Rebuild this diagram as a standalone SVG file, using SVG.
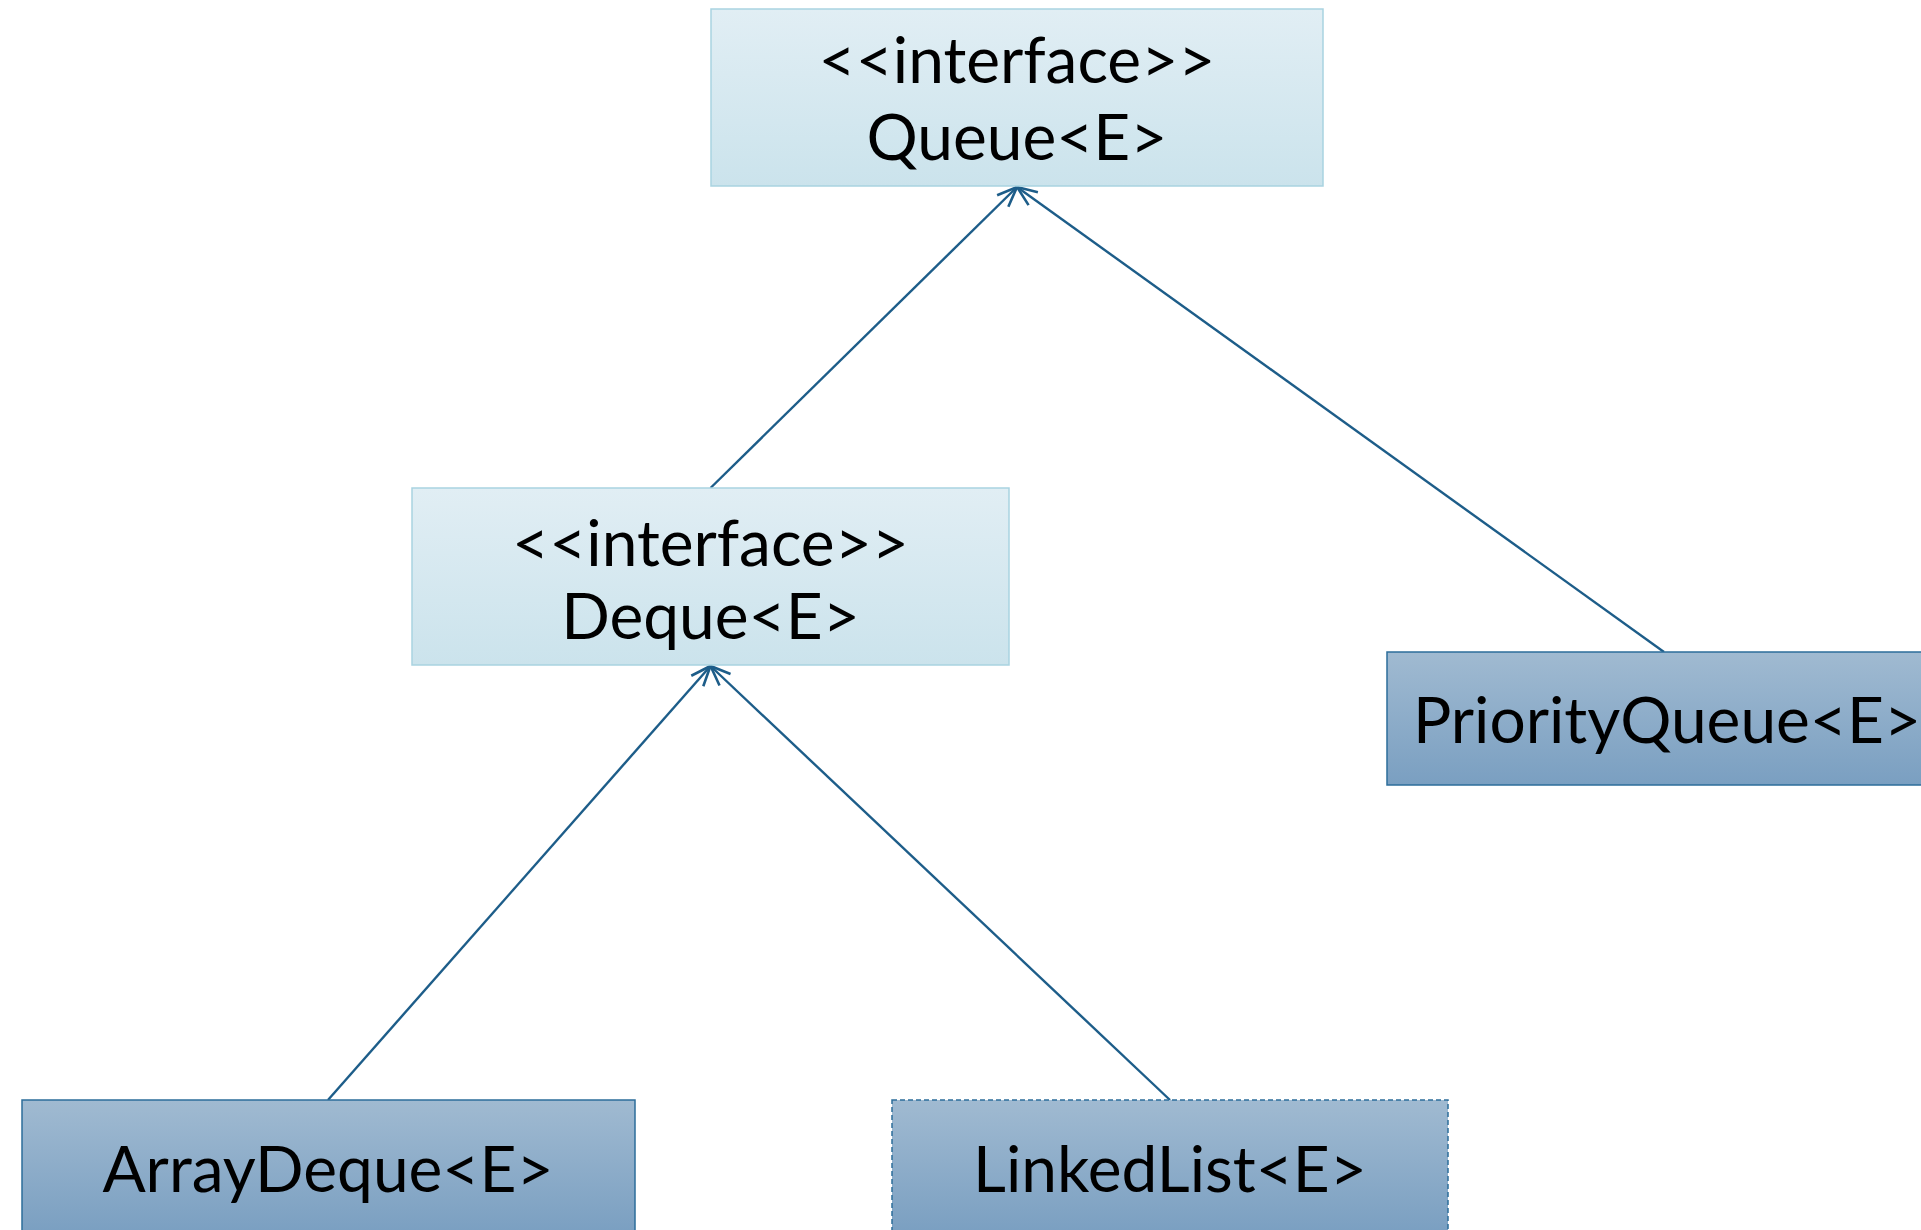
<svg xmlns="http://www.w3.org/2000/svg" width="1921" height="1230" viewBox="0 0 1921 1230">
<defs>
<linearGradient id="gLight" x1="0" y1="0" x2="0" y2="1">
<stop offset="0" stop-color="#e1eef4"/>
<stop offset="1" stop-color="#cbe3ec"/>
</linearGradient>
<linearGradient id="gDark" x1="0" y1="0" x2="0" y2="1">
<stop offset="0" stop-color="#a0bad1"/>
<stop offset="1" stop-color="#7a9fc1"/>
</linearGradient>
<marker id="arr" viewBox="0 0 24 24" refX="22" refY="12" markerWidth="24" markerHeight="24" markerUnits="userSpaceOnUse" orient="auto">
<path d="M2,4 L22,12 L2,20" fill="none" stroke="#1d5d89" stroke-width="2.6"/>
</marker>
<style>
.iface{fill:url(#gLight);stroke:#a9d3e1;stroke-width:1.5}
.cls{fill:url(#gDark);stroke:#2c6d9a;stroke-width:1.5}
.dash{stroke-dasharray:5 3}
.t{font-family:Lato,"Liberation Sans",sans-serif;font-size:64px;fill:#000;text-anchor:middle}
.c{fill:none;stroke:#1d5d89;stroke-width:2.4}
</style>
</defs>
<rect width="1921" height="1230" fill="#fff"/>
<g id="connectors">
<line class="c" x1="710.5" y1="488" x2="1017" y2="187" marker-end="url(#arr)"/>
<line class="c" x1="1664" y1="652" x2="1017" y2="187" marker-end="url(#arr)"/>
<line class="c" x1="328" y1="1100" x2="710.5" y2="666" marker-end="url(#arr)"/>
<line class="c" x1="1170" y1="1100" x2="710.5" y2="666" marker-end="url(#arr)"/>
</g>
<g id="queue">
<rect class="iface" x="711" y="9" width="612" height="177"/>
<text class="t" x="1017" y="83">&lt;&lt;interface&gt;&gt;</text>
<text class="t" x="1017" y="160">Queue&lt;E&gt;</text>
</g>
<g id="deque">
<rect class="iface" x="412" y="488" width="597" height="177"/>
<text class="t" x="710.5" y="566">&lt;&lt;interface&gt;&gt;</text>
<text class="t" x="710.5" y="639">Deque&lt;E&gt;</text>
</g>
<g id="priorityqueue">
<rect class="cls" x="1387" y="652" width="560" height="133"/>
<text class="t" x="1667" y="743">PriorityQueue&lt;E&gt;</text>
</g>
<g id="arraydeque">
<rect class="cls" x="22" y="1100" width="613" height="134"/>
<text class="t" x="328" y="1192">ArrayDeque&lt;E&gt;</text>
</g>
<g id="linkedlist">
<rect class="cls dash" x="892" y="1100" width="556" height="134"/>
<text class="t" x="1170" y="1192">LinkedList&lt;E&gt;</text>
</g>
</svg>
